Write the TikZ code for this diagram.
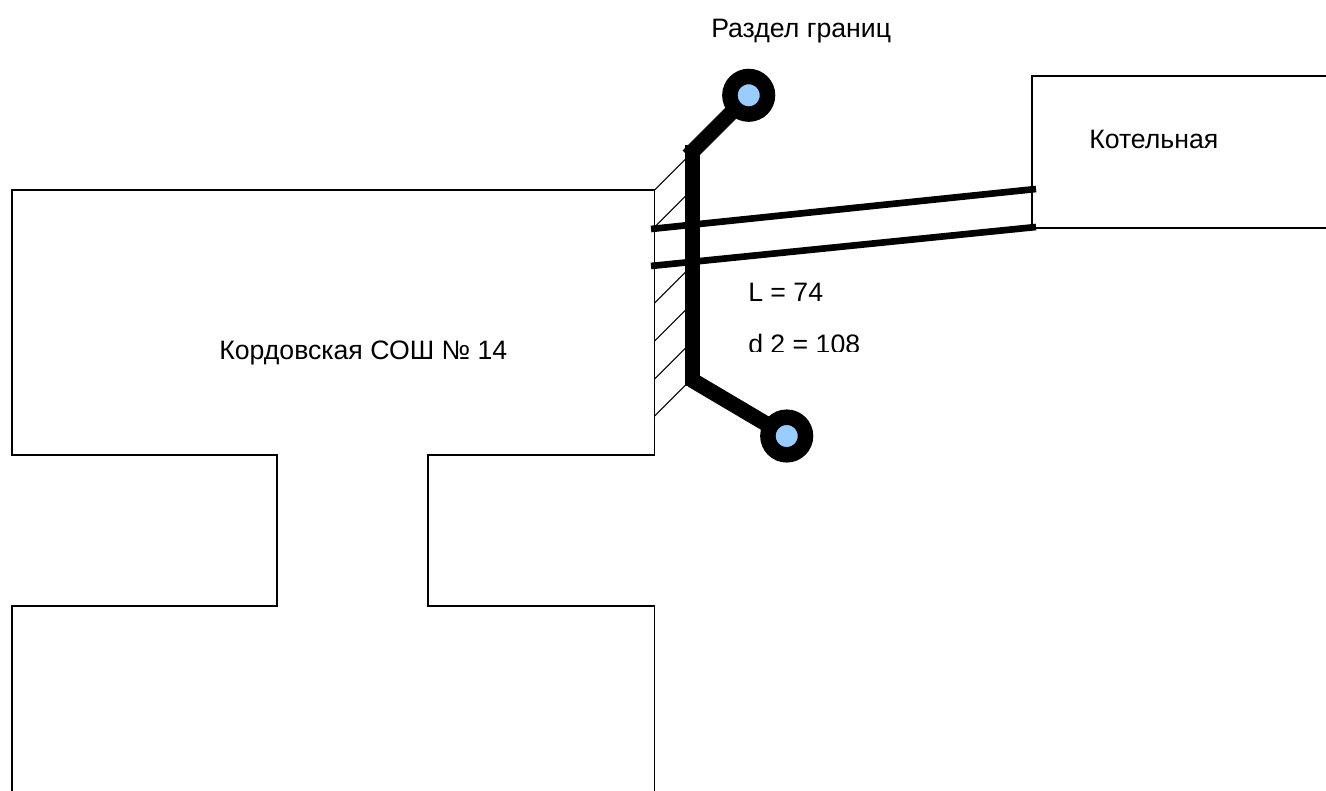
\documentclass[tikz,border=0pt]{standalone}
\usepackage{fontspec}
\setmainfont{Liberation Sans}
\definecolor{lightblue}{HTML}{99CCFF}
\tikzset{
  wall/.style={line width=1.1pt,black},
  hatch/.style={line width=0.8pt,black},
  pipe/.style={line width=5pt,black},
  bound/.style={line width=11.3pt,black},
  stub/.style={line width=11.6pt,black},
  valve/.style={circle,draw=black,line width=11.6pt,fill=lightblue,minimum size=28.2pt,inner sep=0pt},
  lbl/.style={inner sep=0pt,font=\fontsize{20pt}{24pt}\selectfont,anchor=base west}
}
\begin{document}
\begin{tikzpicture}[x=0.75pt,y=-0.75pt]
\useasboundingbox (0,0) rectangle (1326,791);
\draw[wall] (12,791) -- (12,606) -- (277,606) -- (277,455) -- (12,455) -- (12,190) -- (654.5,190) -- (654.5,455) -- (428,455) -- (428,606) -- (654.5,606) -- (654.5,791);
\draw[wall] (1326,76) -- (1032,76) -- (1032,228) -- (1326,228);
\foreach \yy in {190,227,303,341,379,416}{
  \draw[hatch] (654.5,\yy) -- ++(33,-33);
}
\coordinate (bt) at (688,156);
\coordinate (bb) at (692,380);
\draw[stub] (bt) -- (748.7,95.3) coordinate (c1);
\draw[stub] (bb) -- (786.7,436) coordinate (c2);
\node[valve] (v1) at (c1) {};
\node[valve] (v2) at (c2) {};
\draw[bound] (692.5,145) -- (692.5,386);
\coordinate (p1a) at (651,229);
\coordinate (p1b) at (1036,189);
\coordinate (p2a) at (651,266);
\coordinate (p2b) at (1036,227);
\draw[pipe] (p1a) -- (p1b);
\draw[pipe] (p2a) -- (p2b);
\node[lbl] (t1) at (711,38) {Раздел границ};
\node[lbl] (t2) at (1089,149) {Котельная};
\node[lbl] (t3) at (219,359) {Кордовская СОШ № 14};
\node[lbl] (t4) at (748,301) {L = 74};
\begin{scope}
\clip (700,320) rectangle (900,351);
\node[lbl] (t5) at (748,353) {d 2 = 108};
\end{scope}
\end{tikzpicture}
\end{document}
